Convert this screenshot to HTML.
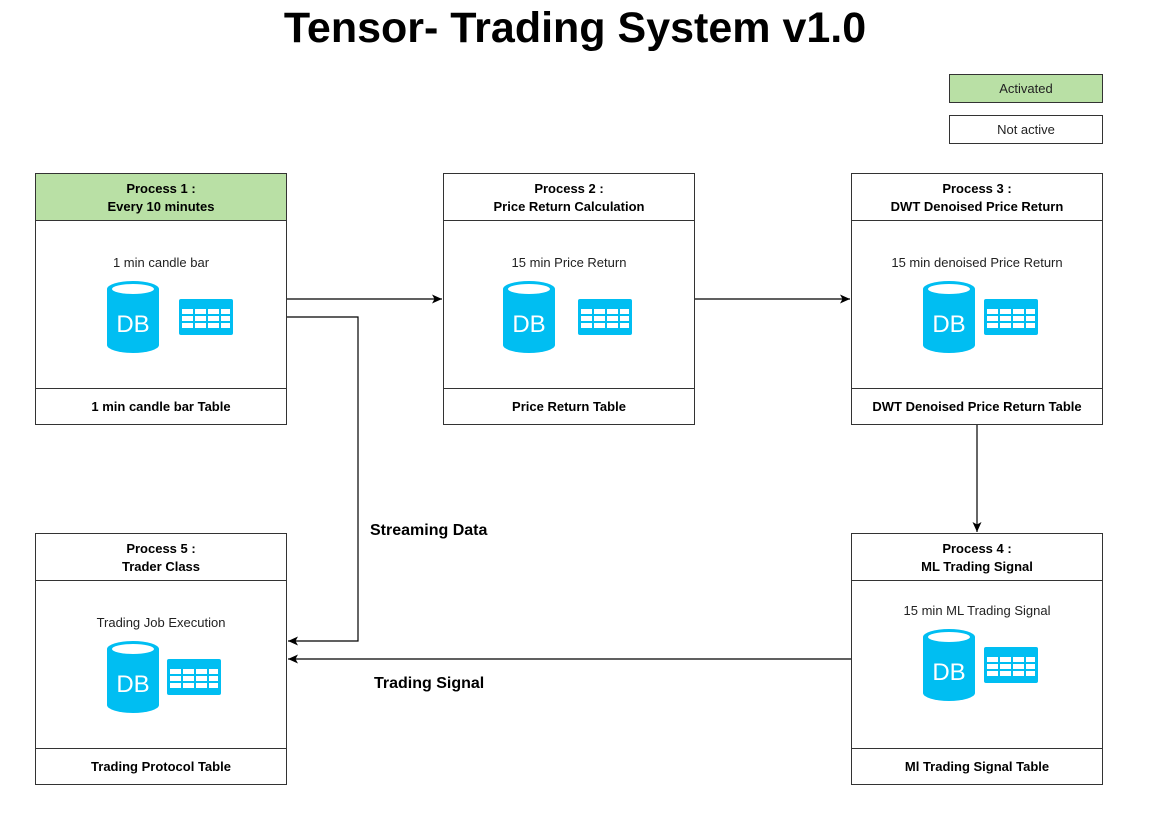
<!DOCTYPE html>
<html><head><meta charset="utf-8"><style>
body{margin:0;width:1167px;height:837px;background:#fff;position:relative;font-family:"Liberation Sans",Arial,sans-serif;overflow:hidden}
.t{position:absolute;left:0;width:1150px;text-align:center;top:4px;font-size:43px;font-weight:bold;color:#000}
.box{position:absolute;width:250px;height:250px;border:1px solid #333;background:#fff}
.hd{position:absolute;left:0;top:0;width:250px;height:47px;border-bottom:1px solid #333;font-size:13px;font-weight:bold;text-align:center;line-height:18px;box-sizing:border-box;padding-top:6px}
.ft{position:absolute;left:0;bottom:0;width:250px;height:36px;border-top:1px solid #333;font-size:13px;font-weight:bold;text-align:center;line-height:35px;box-sizing:border-box}
.lb{position:absolute;left:0;width:250px;text-align:center;font-size:13px;color:#222}
.lg{position:absolute;left:949px;width:152px;height:27px;border:1px solid #333;text-align:center;line-height:27px;font-size:13px;color:#222}
.cl{position:absolute;font-size:16px;font-weight:bold}
</style></head><body>
<div class="t">Tensor- Trading System v1.0</div>
<div class="lg" style="top:74px;background:#b9e0a5">Activated</div>
<div class="lg" style="top:115px">Not active</div>

<div class="box" style="left:35px;top:173px"><div class="hd" style="background:#b9e0a5">Process 1 :<br>Every 10 minutes</div><div class="lb" style="top:81px">1 min candle bar</div><div class="ft">1 min candle bar Table</div></div>
<div class="box" style="left:443px;top:173px"><div class="hd">Process 2 :<br>Price Return Calculation</div><div class="lb" style="top:81px">15 min Price Return</div><div class="ft">Price Return Table</div></div>
<div class="box" style="left:851px;top:173px"><div class="hd">Process 3 :<br>DWT Denoised Price Return</div><div class="lb" style="top:81px">15 min denoised Price Return</div><div class="ft">DWT Denoised Price Return Table</div></div>
<div class="box" style="left:35px;top:533px"><div class="hd">Process 5 :<br>Trader Class</div><div class="lb" style="top:81px">Trading Job Execution</div><div class="ft">Trading Protocol Table</div></div>
<div class="box" style="left:851px;top:533px"><div class="hd">Process 4 :<br>ML Trading Signal</div><div class="lb" style="top:69px">15 min ML Trading Signal</div><div class="ft">Ml Trading Signal Table</div></div>

<div class="cl" style="left:370px;top:522px">Streaming Data</div>
<div class="cl" style="left:374px;top:675px">Trading Signal</div>

<svg width="1167" height="837" style="position:absolute;left:0;top:0">
<defs>
<g id="db"><path d="M0,8 A26,8 0 0 1 52,8 L52,64 A26,8 0 0 1 0,64 Z" fill="#00bef2"/><ellipse cx="26" cy="8" rx="21" ry="5" fill="#fff"/><text x="26" y="51" text-anchor="middle" font-family="Liberation Sans,sans-serif" font-size="24" fill="#fff">DB</text></g>
<g id="tb"><rect width="54" height="36" rx="2" fill="#00bef2"/><g fill="#fff">
<rect x="3" y="10" width="11" height="5"/><rect x="16" y="10" width="11" height="5"/><rect x="29" y="10" width="11" height="5"/><rect x="42" y="10" width="9" height="5"/>
<rect x="3" y="17" width="11" height="5"/><rect x="16" y="17" width="11" height="5"/><rect x="29" y="17" width="11" height="5"/><rect x="42" y="17" width="9" height="5"/>
<rect x="3" y="24" width="11" height="5"/><rect x="16" y="24" width="11" height="5"/><rect x="29" y="24" width="11" height="5"/><rect x="42" y="24" width="9" height="5"/></g></g>
<marker id="a" markerWidth="12" markerHeight="12" refX="10" refY="6" orient="auto" markerUnits="userSpaceOnUse"><path d="M0,1.5 L10,6 L0,10.5 L2.5,6Z" fill="#000"/></marker>
</defs>
<use href="#db" x="107" y="281"/><use href="#tb" x="179" y="299"/>
<use href="#db" x="503" y="281"/><use href="#tb" x="578" y="299"/>
<use href="#db" x="923" y="281"/><use href="#tb" x="984" y="299"/>
<use href="#db" x="107" y="641"/><use href="#tb" x="167" y="659"/>
<use href="#db" x="923" y="629"/><use href="#tb" x="984" y="647"/>
<g stroke="#000" stroke-width="1.2" fill="none" marker-end="url(#a)">
<path d="M287,299 H442"/>
<path d="M695,299 H850"/>
<path d="M287,317 H358 V641 H288"/>
<path d="M977,425 V532"/>
<path d="M851,659 H288"/>
</g>
</svg>
</body></html>
